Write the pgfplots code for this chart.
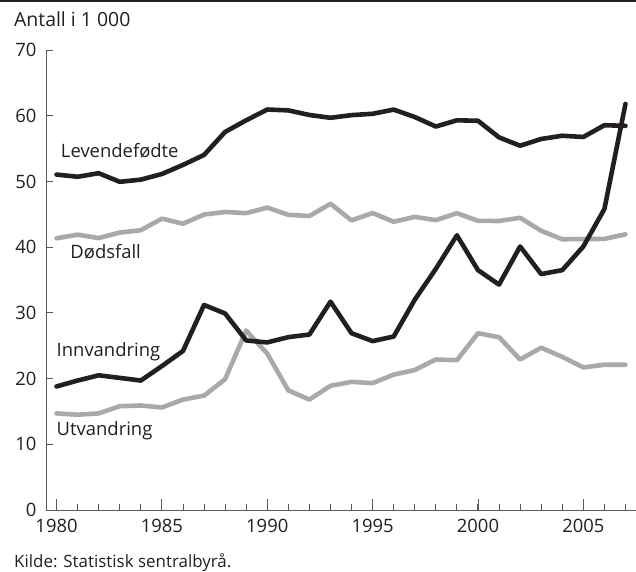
\documentclass[border=0pt]{standalone}
\usepackage{pgfplots}
\pgfplotsset{compat=1.18}
\usepackage{fontspec}
\setmainfont{Open Sans}
\definecolor{blk}{HTML}{231F20}
\definecolor{gry}{HTML}{A7A9AC}
\definecolor{axc}{HTML}{58595B}
\begin{document}
\begin{tikzpicture}[x=1bp,y=1bp]
\useasboundingbox (-46,-62) rectangle (590,510);
\fill[blk] (-46,507.5) rectangle (590,510);
\node[anchor=base west,inner sep=0pt,font=\fontsize{19.5}{23}\selectfont,text=blk] at (-32,483) {Antall i 1 000};
\node[anchor=base west,inner sep=0pt,font=\fontsize{17}{20}\selectfont,text=blk] at (-32,-58) {Kilde: Statistisk sentralbyrå.};
\begin{axis}[
  at={(0,0)}, anchor=origin,
  scale only axis, width=590bp, height=460bp,
  xmin=1979.5, xmax=2007.5, ymin=0, ymax=70,
  axis x line=bottom, axis y line=left,
  axis line style={axc, line width=1pt, -},
  xtick={1980,1985,...,2005},
  minor xtick={1980,...,2007},
  ytick={0,10,...,70},
  tick align=inside,
  major tick length=11bp, minor tick length=6bp,
  every tick/.style={axc, line width=0.9pt},
  ytick style={/pgfplots/major tick length=7bp},
  tick label style={font=\fontsize{18.5}{22}\selectfont, text=blk},
  /pgf/number format/assume math mode=true,
  /pgf/number format/1000 sep={},
  xticklabel style={yshift=-6bp},
  yticklabel style={xshift=-6bp},
  clip=false,
  every axis plot/.append style={line width=4.6bp, line join=round, line cap=round, mark=none},
]
\addplot[gry] coordinates {
(1980,41.34)(1981,41.90)(1982,41.38)(1983,42.22)(1984,42.58)(1985,44.33)(1986,43.56)(1987,44.96)(1988,45.35)(1989,45.17)(1990,46.02)(1991,44.92)(1992,44.73)(1993,46.60)(1994,44.07)(1995,45.19)(1996,43.86)(1997,44.60)(1998,44.11)(1999,45.17)(2000,44.00)(2001,43.98)(2002,44.47)(2003,42.48)(2004,41.20)(2005,41.23)(2006,41.25)(2007,41.95)};
\addplot[gry] coordinates {
(1980,14.7)(1981,14.5)(1982,14.7)(1983,15.8)(1984,15.9)(1985,15.6)(1986,16.8)(1987,17.4)(1988,19.9)(1989,27.3)(1990,23.8)(1991,18.2)(1992,16.8)(1993,18.9)(1994,19.5)(1995,19.3)(1996,20.6)(1997,21.3)(1998,22.9)(1999,22.8)(2000,26.9)(2001,26.3)(2002,22.9)(2003,24.7)(2004,23.3)(2005,21.7)(2006,22.1)(2007,22.1)};
\addplot[blk] coordinates {
(1980,51.04)(1981,50.71)(1982,51.25)(1983,49.94)(1984,50.27)(1985,51.13)(1986,52.51)(1987,54.03)(1988,57.53)(1989,59.30)(1990,60.94)(1991,60.81)(1992,60.11)(1993,59.68)(1994,60.09)(1995,60.29)(1996,60.93)(1997,59.80)(1998,58.35)(1999,59.30)(2000,59.23)(2001,56.70)(2002,55.43)(2003,56.46)(2004,56.95)(2005,56.76)(2006,58.55)(2007,58.46)};
\addplot[blk] coordinates {
(1980,18.8)(1981,19.7)(1982,20.5)(1983,20.1)(1984,19.7)(1985,21.9)(1986,24.2)(1987,31.2)(1988,29.9)(1989,25.8)(1990,25.5)(1991,26.3)(1992,26.7)(1993,31.7)(1994,26.9)(1995,25.7)(1996,26.4)(1997,32.0)(1998,36.7)(1999,41.8)(2000,36.5)(2001,34.3)(2002,40.1)(2003,35.9)(2004,36.5)(2005,40.1)(2006,45.8)(2007,61.8)};
\node[anchor=base west,inner sep=0pt,font=\fontsize{18.5}{22}\selectfont,text=blk] at (axis cs:1980.2,53.6) {Levendefødte};
\node[anchor=base west,inner sep=0pt,font=\fontsize{18.5}{22}\selectfont,text=blk] at (axis cs:1980.65,38.2) {Dødsfall};
\node[anchor=base west,inner sep=0pt,font=\fontsize{18.5}{22}\selectfont,text=blk] at (axis cs:1980.0,23.4) {Innvandring};
\node[anchor=base west,inner sep=0pt,font=\fontsize{18.5}{22}\selectfont,text=blk] at (axis cs:1980.0,11.3) {Utvandring};
\end{axis}
\end{tikzpicture}
\end{document}
